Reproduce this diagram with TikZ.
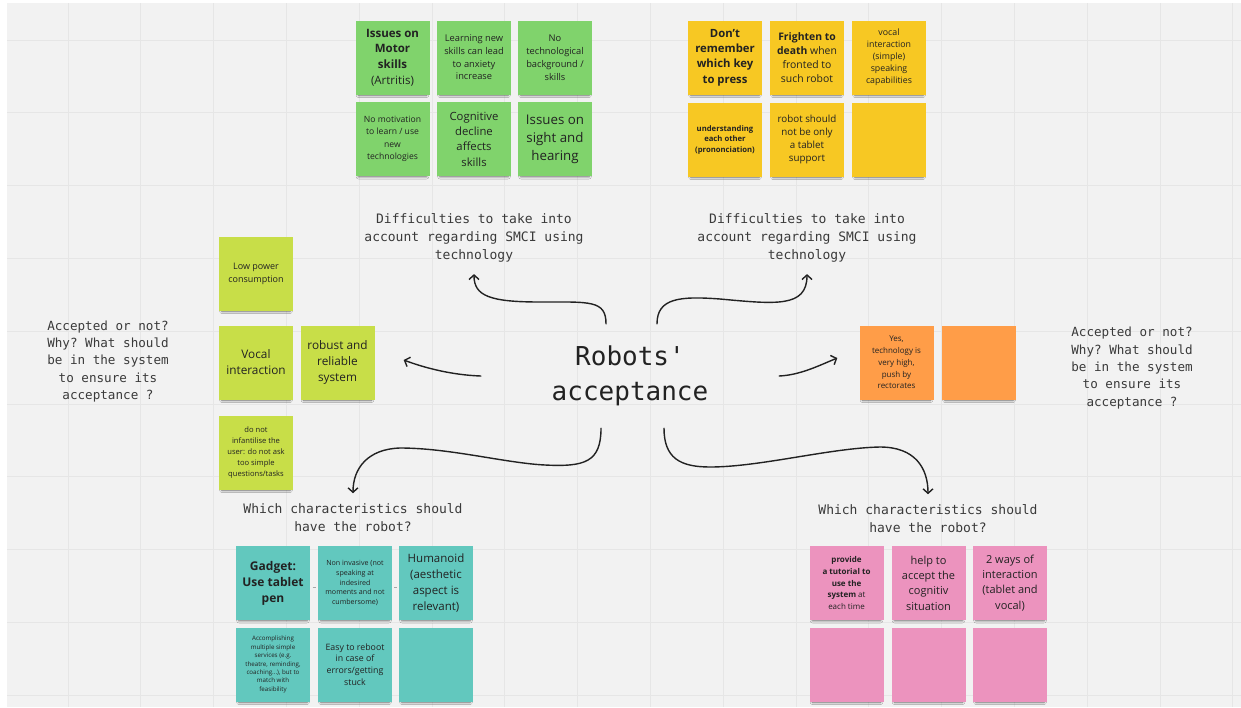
\documentclass[tikz,border=0pt]{standalone}
\usepackage{fontspec}
\setmainfont{Open Sans}
\setmonofont{DejaVu Sans Mono}
\usetikzlibrary{arrows.meta,shadows.blur}

\definecolor{boardbg}{HTML}{F2F2F2}
\definecolor{gridc}{HTML}{E6E6E6}
\definecolor{notegreen}{RGB}{128,211,108}
\definecolor{noteyellow}{RGB}{247,200,35}
\definecolor{notelime}{RGB}{200,222,72}
\definecolor{noteteal}{RGB}{98,200,190}
\definecolor{notepink}{RGB}{236,147,190}
\definecolor{noteorange}{RGB}{255,157,72}
\definecolor{notetext}{HTML}{222222}
\definecolor{labeltext}{HTML}{3A3A3A}
\definecolor{inkc}{HTML}{222222}

\newcommand\fsz[2]{\fontsize{#1}{#2}\selectfont}

\tikzset{
  note/.style={fill=#1, minimum width=74pt, minimum height=74pt, inner sep=1pt,
    align=center, text=notetext,
    blur shadow={shadow xshift=0pt, shadow yshift=-4pt, shadow scale=0.92,
      shadow opacity=60, shadow blur radius=2.5pt}},
  lbl/.style={font=\ttfamily\fsz{13}{18}, text=labeltext, align=center, inner sep=0pt},
  sidelbl/.style={font=\ttfamily\fsz{12.6}{17.3}, text=labeltext, align=center, inner sep=0pt},
  titletext/.style={font=\ttfamily\fsz{26}{35}, text=inkc, align=center, inner sep=0pt},
  arr/.style={draw=inkc, line width=1.4pt, line cap=round,
    -{Straight Barb[length=4.5pt,width=10pt,line width=1.4pt]}},
  gridline/.style={draw=gridc, line width=1pt},
  tick/.style={draw=gray!70, line width=0.8pt}
}

\begin{document}
\begin{tikzpicture}[x=1pt,y=-1pt]
\useasboundingbox (0,0) rectangle (1241,707);
% board and grid
\fill[white] (0,0) rectangle (1241,707);
\fill[boardbg] (7,3) rectangle (1241,707);
\foreach \i in {0,...,16} \draw[gridline] ({68+72.8*\i},3) -- ({68+72.8*\i},707);
\foreach \j in {0,...,9} \draw[gridline] (7,{40+72.8*\j}) -- (1241,{40+72.8*\j});

% centre title
\node[titletext, minimum width=298pt, minimum height=104pt] (title) at (630,376) {Robots'\\acceptance};

% headings
\node[lbl] (dtl) at (474,238) {Difficulties to take into\\account regarding SMCI using\\technology};
\node[lbl] (dtr) at (807,238) {Difficulties to take into\\account regarding SMCI using\\technology};
\node[sidelbl] (acl) at (108,361.5) {Accepted or not?\\Why? What should\\be in the system\\to ensure its\\acceptance ?};
\node[sidelbl] (acr) at (1132,368) {Accepted or not?\\Why? What should\\be in the system\\to ensure its\\acceptance ?};
\node[lbl] (wcl) at (353,518) {Which characteristics should\\have the robot?};
\node[lbl] (wcr) at (928,519) {Which characteristics should\\have the robot?};

% green notes
\node[note=notegreen, font=\bfseries\fsz{11.5}{15.7}] (g1) at (392.5,57.5) {Issues on\\Motor\\skills\\{\mdseries(Artritis)}};
\node[note=notegreen, font=\fsz{9.3}{12.7}] (g2) at (474,57.5) {Learning new\\skills can lead\\to anxiety\\increase};
\node[note=notegreen, font=\fsz{9.3}{13}] (g3) at (555,57.5) {No\\technological\\background /\\skills};
\node[note=notegreen, font=\fsz{8.6}{12.3}] (g4) at (392.5,139) {No motivation\\to learn / use\\new\\technologies};
\node[note=notegreen, font=\fsz{11.3}{15.3}] (g5) at (474,139) {Cognitive\\decline\\affects\\skills};
\node[note=notegreen, font=\fsz{13.3}{18}] (g6) at (555,139) {Issues on\\sight and\\hearing};

% yellow notes
\node[note=noteyellow, font=\bfseries\fsz{11.3}{15.3}] (y1) at (725,57.5) {Don't\\remember\\which key\\to press};
\node[note=noteyellow, font=\fsz{10.4}{14}] (y2) at (807,57.5) {\textbf{Frighten to}\\\textbf{death} when\\fronted to\\such robot};
\node[note=noteyellow, font=\fsz{8.8}{12}] (y3) at (889,57.5) {vocal\\interaction\\(simple)\\speaking\\capabilities};
\node[note=noteyellow, font=\bfseries\fsz{7.7}{10.5}] (y4) at (725,139.5) {understanding\\each other\\(prononciation)};
\node[note=noteyellow, font=\fsz{9.8}{13.3}] (y5) at (807,139.5) {robot should\\not be only\\a tablet\\support};
\node[note=noteyellow] (y6) at (889,139.5) {};

% lime notes
\node[note=notelime, font=\fsz{9}{13}] (l1) at (256,273.5) {Low power\\consumption};
\node[note=notelime, font=\fsz{11.8}{16}] (l2) at (256,362.5) {Vocal\\interaction};
\node[note=notelime, font=\fsz{11.8}{16}] (l3) at (337.5,362.5) {robust and\\reliable\\system};
\node[note=notelime, font=\fsz{7.6}{10.8}] (l4) at (256,452.5) {do not\\infantilise the\\user: do not ask\\too simple\\questions/tasks};

% orange notes
\node[note=noteorange, font=\fsz{8}{11.8}] (o1) at (896.5,362.5) {Yes,\\technology is\\very high,\\push by\\rectorates};
\node[note=noteorange] (o2) at (979,362.5) {};

% teal notes
\node[note=noteteal, font=\bfseries\fsz{12}{16}] (t1) at (273,583) {Gadget:\\Use tablet\\pen};
\node[note=noteteal, font=\fsz{7.1}{9.8}] (t2) at (355,583) {Non invasive (not\\speaking at\\indesired\\moments and not\\cumbersome)};
\node[note=noteteal, font=\fsz{11.5}{15.7}] (t3) at (436,583) {Humanoid\\(aesthetic\\aspect is\\relevant)};
\node[note=noteteal, font=\fsz{6.2}{8.4}] (t4) at (273,664.5) {Accomplishing\\multiple simple\\services (e.g.\\theatre, reminding,\\coaching...), but to\\match with\\feasibility};
\node[note=noteteal, font=\fsz{8.8}{11.7}] (t5) at (355,664.5) {Easy to reboot\\in case of\\errors/getting\\stuck};
\node[note=noteteal] (t6) at (436,664.5) {};
\draw[tick] (t1.east |- 0,587) ++(2.5,0) -- ++(3,0);
\draw[tick] (t2.east |- 0,587) ++(2,0) -- ++(3,0);

% pink notes
\node[note=notepink, font=\fsz{8}{11.8}] (p1) at (846.5,583) {\textbf{provide}\\\textbf{a tutorial to}\\\textbf{use the}\\\textbf{system} at\\each time};
\node[note=notepink, font=\fsz{11}{15.3}] (p2) at (928.5,583) {help to\\accept the\\cognitiv\\situation};
\node[note=notepink, font=\fsz{11}{15.3}] (p3) at (1010,583) {2 ways of\\interaction\\(tablet and\\vocal)};
\node[note=notepink] (p4) at (846.5,664.5) {};
\node[note=notepink] (p5) at (928.5,664.5) {};
\node[note=notepink] (p6) at (1010,664.5) {};

% arrows from the centre
\draw[arr] ([xshift=-24pt]title.north) .. controls (606,300) and (590,302) .. (540,302)
  .. controls (490,302) and (474,296) .. ([yshift=-11.5pt]dtl.south);
\draw[arr] ([xshift=27pt]title.north) .. controls (657,298) and (680,296) .. (720,299)
  .. controls (775,304) and (807,308) .. ([yshift=-11.5pt]dtr.south);
\draw[arr] (title.west) .. controls (452,375) and (425,368) .. ([xshift=29pt,yshift=2.5pt]l3.east);
\draw[arr] (title.east) .. controls (800,375) and (818,366) .. ([xshift=-22pt,yshift=4.5pt]o1.west);
\draw[arr] ([xshift=-29pt]title.south) .. controls (601,462) and (585,467) .. (545,465)
  .. controls (505,463) and (450,448) .. (400,448)
  .. controls (368,449) and (353,468) .. ([yshift=10.5pt]wcl.north);
\draw[arr] ([xshift=34pt]title.south) .. controls (664,458) and (680,467) .. (710,467)
  .. controls (760,467) and (830,448) .. (880,447)
  .. controls (915,447) and (928,468) .. ([yshift=10.5pt]wcr.north);
\end{tikzpicture}
\end{document}
